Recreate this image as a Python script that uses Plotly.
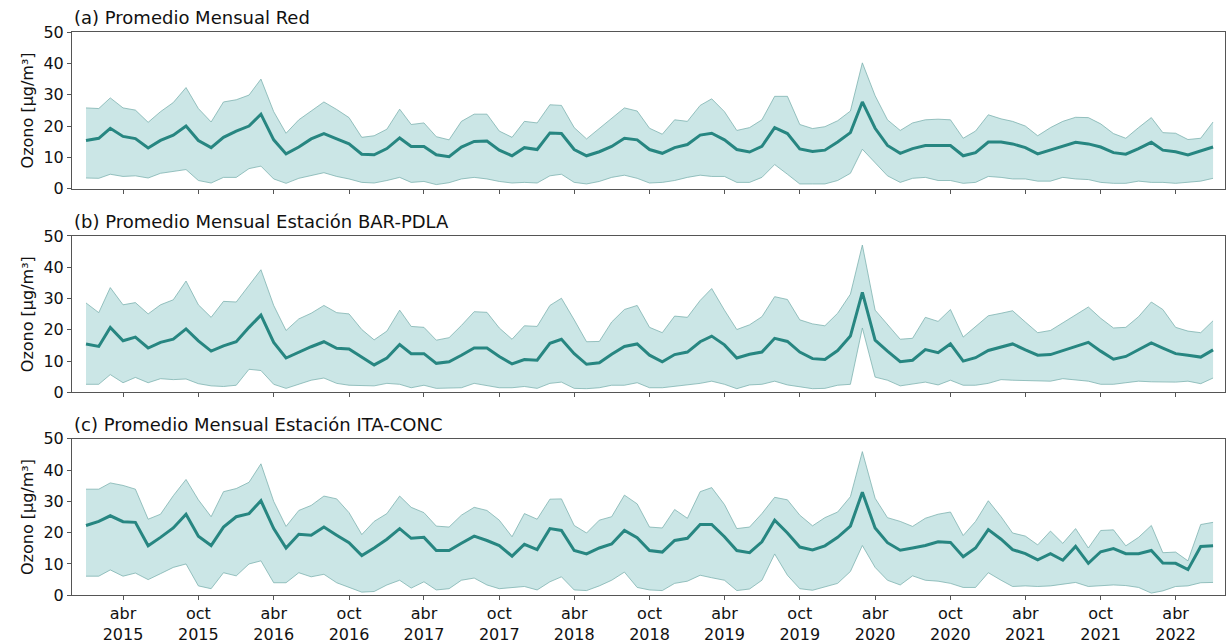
import pandas as pd
import plotly.graph_objects as go

# Monthly dates: Jan 2015 .. Jul 2022
dates = pd.date_range("2015-01-01", "2022-07-01", freq="MS")

# (a) Network monthly average: mean, upper and lower envelopes (µg/m3)
red_mean = [15.4, 16.1, 19.3, 16.7, 16.0, 13.0, 15.4, 17.1, 20.0, 15.4, 13.1, 16.4, 18.4, 20.0, 23.8, 15.6,
            11.1, 13.3, 15.9, 17.6, 15.9, 14.3, 11.0, 10.8, 12.8, 16.2, 13.5, 13.5, 10.8, 10.2, 13.3, 15.1,
            15.2, 12.3, 10.5, 13.1, 12.5, 17.8, 17.6, 12.5, 10.5, 11.8, 13.5, 16.1, 15.6, 12.5, 11.3, 13.1,
            14.1, 17.1, 17.7, 15.6, 12.5, 11.7, 13.5, 19.5, 17.6, 12.7, 11.9, 12.3, 14.9, 17.9, 27.7, 19.3,
            13.8, 11.3, 12.8, 13.8, 13.8, 13.8, 10.5, 11.5, 14.9, 14.9, 14.3, 13.1, 11.1, 12.3, 13.5, 14.8,
            14.3, 13.3, 11.5, 11.0, 12.8, 14.8, 12.3, 11.8, 10.8, 12.0, 13.3]
red_upper = [25.8, 25.6, 29.0, 25.8, 25.1, 21.2, 24.6, 27.5, 32.3, 25.6, 21.3, 27.7, 28.4, 29.9, 35.0, 24.6,
             17.7, 22.0, 24.8, 27.7, 25.3, 22.7, 16.4, 16.9, 19.0, 25.4, 20.5, 21.0, 16.6, 15.6, 21.5, 23.8,
             23.8, 18.4, 16.4, 21.5, 21.0, 26.8, 26.6, 19.5, 15.9, 19.3, 22.5, 25.8, 24.8, 19.3, 17.4, 22.0,
             21.5, 26.6, 28.7, 24.6, 18.6, 19.5, 22.0, 29.5, 29.5, 20.5, 19.2, 19.8, 21.7, 24.8, 40.2, 29.7,
             22.0, 18.6, 21.0, 22.0, 22.2, 22.0, 16.1, 18.4, 23.6, 22.3, 21.5, 20.0, 16.9, 19.5, 21.5, 22.8,
             22.7, 20.7, 17.6, 16.1, 19.5, 22.7, 17.9, 17.7, 15.7, 16.1, 21.3]
red_lower = [3.4, 3.3, 4.6, 3.9, 4.1, 3.4, 4.9, 5.6, 6.1, 2.6, 1.8, 3.6, 3.6, 6.4, 7.2, 3.1,
             1.7, 3.3, 4.3, 5.1, 3.9, 3.1, 2.0, 1.8, 2.6, 3.6, 2.0, 2.3, 1.3, 1.9, 3.1, 3.6,
             3.1, 2.3, 1.8, 2.0, 1.8, 4.1, 4.6, 2.0, 1.5, 2.3, 3.6, 4.3, 3.3, 1.8, 2.0, 2.6,
             3.6, 4.3, 3.9, 3.9, 2.0, 2.0, 3.6, 7.7, 4.6, 1.5, 1.5, 1.5, 2.6, 4.9, 12.6, 8.4,
             4.1, 2.0, 3.3, 3.6, 2.6, 2.6, 1.7, 2.0, 3.9, 3.6, 3.1, 3.1, 2.4, 2.4, 3.6, 3.1,
             2.9, 2.0, 1.7, 1.7, 2.4, 2.0, 2.0, 1.7, 2.0, 2.4, 3.3]

# (b) Station BAR-PDLA
bar_mean = [15.5, 14.7, 20.8, 16.5, 17.7, 14.2, 16.0, 17.0, 20.3, 16.5, 13.2, 14.9, 16.2, 20.8, 24.7, 16.0,
            11.0, 12.9, 14.6, 16.2, 14.1, 13.9, 11.3, 8.8, 11.0, 15.3, 12.4, 12.4, 9.3, 9.8, 11.9, 14.2,
            14.2, 11.5, 9.1, 10.5, 10.3, 15.7, 17.0, 12.4, 9.0, 9.5, 12.2, 14.7, 15.5, 11.9, 9.8, 12.1,
            12.9, 16.2, 18.0, 15.2, 11.0, 12.2, 12.9, 17.3, 16.3, 12.9, 10.8, 10.5, 13.4, 18.0, 32.0, 16.7,
            13.2, 9.8, 10.3, 13.7, 12.7, 15.5, 10.0, 11.1, 13.4, 14.4, 15.5, 13.6, 11.9, 12.1, 13.4, 14.7,
            16.0, 13.2, 10.6, 11.5, 13.6, 15.8, 14.2, 12.4, 11.9, 11.3, 13.6]
bar_upper = [28.6, 25.5, 33.5, 28.0, 28.7, 25.1, 28.0, 29.6, 35.6, 28.0, 24.0, 29.1, 28.9, 34.3, 39.2, 27.8,
             19.8, 23.5, 25.3, 27.8, 25.5, 25.1, 20.1, 16.8, 19.6, 26.3, 21.1, 20.8, 16.7, 17.5, 21.4, 25.8,
             25.6, 20.6, 17.0, 21.3, 21.1, 27.8, 30.1, 23.2, 16.2, 16.3, 22.5, 26.5, 27.8, 20.8, 19.1, 24.4,
             24.0, 29.4, 33.2, 26.3, 20.1, 21.6, 24.2, 30.6, 29.7, 23.2, 21.9, 21.3, 25.3, 31.4, 47.1, 26.3,
             21.6, 17.0, 17.3, 24.0, 22.7, 26.5, 17.7, 21.1, 24.5, 25.3, 26.1, 22.5, 19.1, 19.8, 22.2, 24.7,
             27.3, 23.7, 20.6, 20.8, 24.2, 28.9, 26.5, 20.8, 19.6, 19.1, 22.9]
bar_lower = [2.6, 2.6, 5.7, 3.1, 4.8, 3.1, 4.4, 4.1, 4.3, 2.8, 2.1, 1.9, 2.3, 7.4, 7.0, 2.6,
             1.3, 2.6, 3.9, 4.6, 2.9, 2.3, 2.3, 2.1, 2.9, 2.6, 1.5, 2.3, 1.3, 1.5, 1.5, 2.9,
             2.3, 1.5, 1.5, 1.9, 1.3, 2.9, 3.3, 1.3, 1.2, 1.5, 2.3, 2.3, 3.1, 1.5, 1.5, 1.9,
             2.4, 2.9, 3.6, 2.6, 1.2, 2.4, 2.6, 3.6, 2.4, 1.8, 1.2, 1.3, 2.3, 2.6, 20.6, 4.9,
             3.9, 2.1, 2.6, 3.3, 2.4, 3.9, 2.3, 2.3, 2.9, 4.1, 3.9, 3.8, 3.9, 3.6, 4.4, 4.1,
             3.6, 2.6, 2.6, 3.1, 3.6, 3.4, 3.3, 3.3, 3.6, 2.8, 4.6]

# (c) Station ITA-CONC
ita_mean = [22.3, 23.6, 25.4, 23.5, 23.3, 15.8, 18.5, 21.5, 25.9, 18.9, 15.9, 21.8, 25.1, 26.1, 30.2, 21.3,
            15.1, 19.5, 19.2, 21.8, 19.2, 16.8, 12.7, 15.1, 17.9, 21.3, 18.2, 18.5, 14.3, 14.3, 16.6, 18.9,
            17.5, 15.9, 12.5, 16.3, 14.6, 21.3, 20.7, 14.3, 13.2, 15.1, 16.4, 20.7, 18.4, 14.3, 13.8, 17.5,
            18.2, 22.6, 22.6, 18.7, 14.3, 13.6, 17.1, 24.0, 19.9, 15.4, 14.5, 15.8, 18.5, 22.1, 32.9, 21.5,
            16.8, 14.4, 15.1, 15.9, 17.1, 16.9, 12.3, 15.1, 21.0, 17.9, 14.6, 13.3, 11.3, 13.3, 11.2, 15.6,
            10.2, 13.9, 14.9, 13.3, 13.3, 14.3, 10.3, 10.2, 8.2, 15.6, 15.8]
ita_upper = [33.9, 33.9, 35.9, 35.1, 33.9, 24.3, 25.9, 31.8, 37.0, 30.5, 25.1, 33.1, 34.1, 36.1, 42.0, 30.0,
             22.0, 27.1, 28.7, 31.7, 30.8, 26.4, 19.4, 23.6, 26.1, 31.7, 28.1, 26.4, 22.1, 21.8, 25.6, 28.1,
             27.1, 24.0, 18.7, 26.1, 24.3, 30.7, 30.8, 22.3, 19.9, 24.0, 25.1, 32.0, 29.2, 21.8, 21.5, 27.4,
             24.6, 33.1, 34.4, 29.0, 21.3, 21.8, 26.1, 31.3, 30.5, 25.6, 22.2, 24.8, 26.6, 31.5, 45.9, 31.0,
             24.8, 23.6, 22.0, 24.6, 25.9, 26.6, 19.1, 23.6, 30.2, 25.1, 19.9, 18.9, 16.1, 20.5, 16.6, 21.3,
             15.1, 20.7, 20.9, 15.8, 18.5, 22.3, 13.6, 13.8, 11.0, 22.6, 23.3]
ita_lower = [6.1, 6.1, 8.1, 6.1, 7.1, 5.0, 6.9, 8.9, 10.0, 3.0, 2.1, 7.2, 6.2, 10.0, 11.0, 4.0,
             4.0, 7.2, 5.9, 6.7, 4.0, 2.6, 1.0, 1.2, 3.3, 4.8, 2.3, 4.3, 1.7, 2.1, 4.8, 5.5,
             3.3, 2.1, 2.5, 2.8, 1.7, 4.3, 5.9, 1.7, 1.5, 3.0, 4.8, 7.4, 2.5, 1.7, 1.5, 3.8,
             4.5, 6.4, 5.6, 4.8, 1.5, 2.0, 4.8, 13.2, 6.4, 2.1, 1.6, 2.6, 3.8, 7.6, 15.9, 8.9,
             4.8, 3.3, 6.2, 4.8, 4.5, 3.8, 2.5, 2.5, 7.2, 4.8, 2.8, 3.0, 2.8, 3.0, 3.5, 4.1,
             2.8, 3.1, 3.3, 3.1, 2.5, 0.7, 1.4, 2.8, 3.0, 4.0, 4.1]

panel_titles = ["(a) Promedio Mensual Red",
                "(b) Promedio Mensual Estación BAR-PDLA",
                "(c) Promedio Mensual Estación ITA-CONC"]
panels = [(red_mean, red_upper, red_lower),
          (bar_mean, bar_upper, bar_lower),
          (ita_mean, ita_upper, ita_lower)]

# Tick positions every six months (April / October)
month_names = {4: "abr", 10: "oct"}
tick_dates = list(pd.date_range("2015-04-01", "2022-04-01", freq="6MS"))
tick_text = [f"{month_names[d.month]}<br>{d.year}" for d in tick_dates]
y_ticks = [0, 10, 20, 30, 40, 50]
y_title = "Ozono [μg/m³]"

W, H = 1230, 644
x_left, x_right = 72, 1225
panel_px = [(24, 186), (235, 397), (445, 607)]  # top, bottom in pixels

LINE = "#278681"
FILL = "rgba(160,210,210,0.55)"
EDGE = "rgba(120,175,172,0.75)"
AXIS = "#555555"
FONT = "DejaVu Sans"

fig = go.Figure()
annotations = []
layout_axes = {}

for k, ((mean, upper, lower), title, (top, bot)) in enumerate(zip(panels, panel_titles, panel_px)):
    n = k + 1
    xa = "x" if n == 1 else f"x{n}"
    ya = "y" if n == 1 else f"y{n}"
    fig.add_trace(go.Scatter(x=dates, y=upper, mode="lines", line=dict(color=EDGE, width=1),
                             xaxis=xa, yaxis=ya, showlegend=False, hoverinfo="skip"))
    fig.add_trace(go.Scatter(x=dates, y=lower, mode="lines", line=dict(color=EDGE, width=1),
                             fill="tonexty", fillcolor=FILL,
                             xaxis=xa, yaxis=ya, showlegend=False, hoverinfo="skip"))
    fig.add_trace(go.Scatter(x=dates, y=mean, mode="lines", line=dict(color=LINE, width=3),
                             xaxis=xa, yaxis=ya, showlegend=False))

    y0 = 1 - bot / H
    y1 = 1 - top / H
    xkey = "xaxis" if n == 1 else f"xaxis{n}"
    ykey = "yaxis" if n == 1 else f"yaxis{n}"
    xaxis = dict(
        domain=[x_left / W, x_right / W], anchor=ya, type="date",
        range=["2014-11-28", "2022-07-30"],
        tickmode="array", tickvals=tick_dates,
        showticklabels=(n == 3),
        ticks="outside", ticklen=4, tickwidth=1, tickcolor=AXIS,
        showline=True, linecolor=AXIS, linewidth=1, mirror=True,
        showgrid=False, zeroline=False,
        tickfont=dict(family=FONT, size=16, color="#111111"),
    )
    if n == 3:
        xaxis["ticktext"] = tick_text
    layout_axes[xkey] = xaxis
    layout_axes[ykey] = dict(
        domain=[y0, y1], anchor=xa, range=[0, 50],
        tickmode="array", tickvals=y_ticks,
        ticks="outside", ticklen=4, tickwidth=1, tickcolor=AXIS,
        showline=True, linecolor=AXIS, linewidth=1, mirror=True,
        showgrid=False, zeroline=False,
        tickfont=dict(family=FONT, size=16, color="#111111"),
    )
    annotations.append(dict(
        text=title, xref="paper", yref="paper", x=x_left / W, y=y1,
        xanchor="left", yanchor="bottom", showarrow=False, yshift=2,
        font=dict(family=FONT, size=18, color="#111111"),
    ))
    annotations.append(dict(
        text=y_title, xref="paper", yref="paper",
        x=27 / W, y=(y0 + y1) / 2, xanchor="center", yanchor="middle",
        textangle=-90, showarrow=False,
        font=dict(family=FONT, size=16, color="#111111"),
    ))

fig.update_layout(
    width=W, height=H,
    margin=dict(l=0, r=0, t=0, b=0),
    paper_bgcolor="white", plot_bgcolor="white",
    annotations=annotations,
    **layout_axes,
)

fig.write_html("out.html")
